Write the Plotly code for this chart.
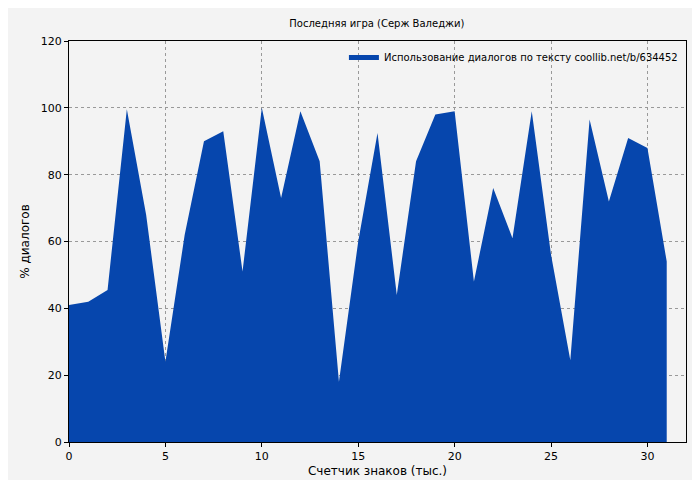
import plotly.graph_objects as go

# Счетчик знаков (тыс.) и % диалогов
counts = list(range(32))
dialog_pct = [41, 42, 45.5, 99.6, 68, 24, 62, 90, 93, 51, 100, 73, 99, 84, 18, 60,
              92.5, 44, 84, 98, 99, 48, 76, 61, 99, 56, 24.5, 96.5, 72, 91, 88, 54]

fill_color = "#0646ad"

fig = go.Figure()
fig.add_trace(go.Scatter(
    x=counts, y=dialog_pct, mode="lines", fill="tozeroy",
    line=dict(color=fill_color, width=0), fillcolor=fill_color,
    name="Использование диалогов по тексту coollib.net/b/634452",
))
# legend sample line
fig.add_trace(go.Scatter(
    x=[None], y=[None], mode="lines", line=dict(color=fill_color, width=5),
    name="Использование диалогов по тексту coollib.net/b/634452",
))
fig.data[0].showlegend = False

axis_style = dict(
    showline=True, linecolor="black", linewidth=1, mirror=True,
    showgrid=True, gridcolor="#999999", griddash="dot", gridwidth=1,
    ticks="outside", ticklen=4, tickcolor="black", zeroline=False,
    tickfont=dict(size=11, color="black"),
)

fig.update_layout(
    width=700, height=480,
    margin=dict(l=61, r=22, t=33, b=41),
    paper_bgcolor="#f3f3f3", plot_bgcolor="#f3f3f3",
    font=dict(family="DejaVu Sans", size=10, color="black"),
    title=dict(text="Последняя игра (Серж Валеджи)", x=0.527, y=0.975,
               xanchor="center", font=dict(size=10)),
    legend=dict(x=0.995, y=0.995, xanchor="right", yanchor="top",
                bgcolor="rgba(0,0,0,0)", font=dict(size=10)),
    xaxis=dict(title=dict(text="Счетчик знаков (тыс.)", standoff=4),
               range=[0, 32], dtick=5, **axis_style),
    yaxis=dict(title=dict(text="% диалогов", standoff=8),
               range=[0, 120], dtick=20, **axis_style),
)

fig.write_html("out.html")
